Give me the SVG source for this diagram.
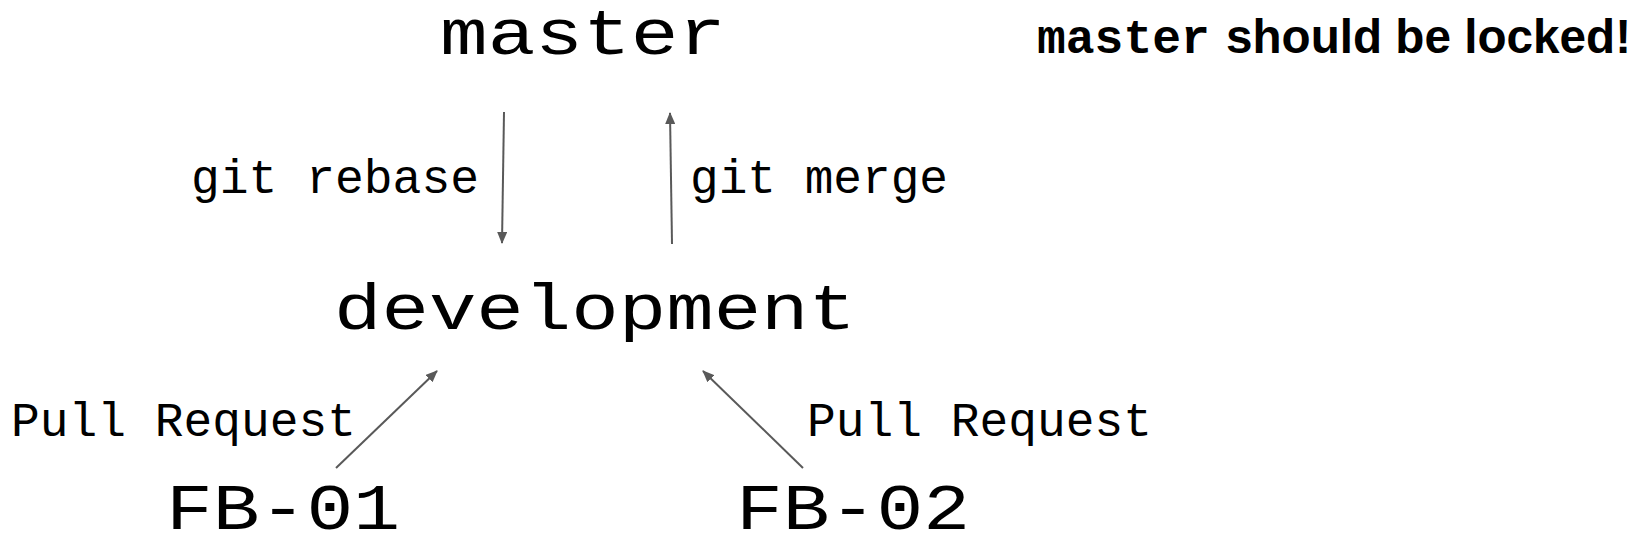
<svg xmlns="http://www.w3.org/2000/svg" width="1647" height="549" viewBox="0 0 1647 549">
  <style>
    .mono { font-family: "Liberation Mono", "Courier New", monospace; fill: #000; }
    .big { font-size: 64px; }
    .mid { font-size: 48px; }
    .note { font-family: "Liberation Sans", Arial, sans-serif; font-weight: bold; font-size: 48px; fill: #000; }
    .conn { stroke: #595959; stroke-width: 2; fill: none; marker-end: url(#arrow); }
  </style>
  <defs>
    <marker id="arrow" viewBox="0 0 12 10" markerWidth="12" markerHeight="10" refX="11" refY="5" orient="auto" markerUnits="userSpaceOnUse">
      <path d="M0,0 L12,5 L0,10 z" fill="#595959"/>
    </marker>
  </defs>
  <rect width="1647" height="549" fill="#fff"/>

  <g id="node-master">
    <text class="mono big" x="440" y="54" textLength="286" lengthAdjust="spacingAndGlyphs">master</text>
  </g>
  <g id="node-development">
    <text class="mono big" x="334" y="329" textLength="522" lengthAdjust="spacingAndGlyphs">development</text>
  </g>
  <g id="node-fb01">
    <text class="mono big" x="166" y="529" textLength="234" lengthAdjust="spacingAndGlyphs">FB-01</text>
  </g>
  <g id="node-fb02">
    <text class="mono big" x="736" y="529" textLength="234" lengthAdjust="spacingAndGlyphs">FB-02</text>
  </g>
  <g id="note-locked">
    <text x="1037" y="53"><tspan class="mono mid" font-weight="bold">master</tspan></text>
    <text class="note" x="1226" y="53" textLength="405" lengthAdjust="spacingAndGlyphs">should be locked!</text>
  </g>

  <g id="connectors">
    <path class="conn" d="M504,112 L502,243"/>
    <path class="conn" d="M672,244 L670,113"/>
    <path class="conn" d="M336,468 L437,371"/>
    <path class="conn" d="M803,468 L703,371"/>
  </g>

  <g id="labels">
    <text class="mono mid" x="191" y="193" textLength="288" lengthAdjust="spacingAndGlyphs">git rebase</text>
    <text class="mono mid" x="690" y="193" textLength="258" lengthAdjust="spacingAndGlyphs">git merge</text>
    <text class="mono mid" x="11" y="436" textLength="345" lengthAdjust="spacingAndGlyphs">Pull Request</text>
    <text class="mono mid" x="807" y="436" textLength="345" lengthAdjust="spacingAndGlyphs">Pull Request</text>
  </g>
</svg>
